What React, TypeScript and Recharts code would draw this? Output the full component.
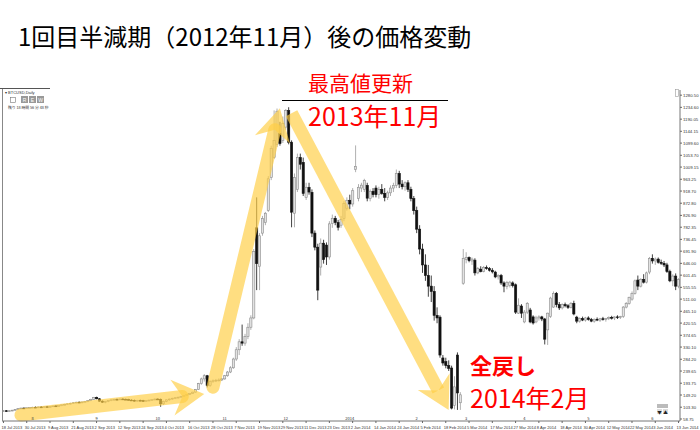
import React from "react";
import { ComposedChart, Bar, XAxis, YAxis, ReferenceLine } from "recharts";

const JP = "'Noto Sans CJK JP', 'Noto Sans', sans-serif";

// date label every 8th daily candle (weekdays only)
const tickDates = [
  "18 Jul 2013", "30 Jul 2013", "9 Aug 2013", "21 Aug 2013", "2 Sep 2013",
  "12 Sep 2013", "24 Sep 2013", "4 Oct 2013", "16 Oct 2013", "28 Oct 2013",
  "7 Nov 2013", "19 Nov 2013", "29 Nov 2013", "11 Dec 2013", "23 Dec 2013",
  "2 Jan 2014", "14 Jan 2014", "24 Jan 2014", "5 Feb 2014", "18 Feb 2014",
  "5 Mar 2014", "17 Mar 2014", "27 Mar 2014", "8 Apr 2014", "18 Apr 2014",
  "30 Apr 2014", "12 May 2014", "22 May 2014", "3 Jun 2014", "13 Jun 2014",
];

const priceTicks = [
  58.75, 103.3, 149.2, 193.75, 239.65, 284.2, 330.1, 374.65, 420.55, 465.1,
  511.0, 555.55, 601.45, 646.0, 691.9, 736.45, 782.35, 826.9, 872.8, 918.7,
  963.25, 1009.15, 1053.7, 1099.6, 1144.15, 1190.05, 1234.6, 1280.5,
];

// month separators: candle index -> label
const monthMarks = [
  [10, "8"], [32, "9"], [53, "10"], [76, "11"], [97, "12"], [119, "2014"],
  [142, "2"], [159, "3"], [179, "4"], [201, "5"], [223, "6"],
];

// [open, high, low, close]
const summer2013 = [
  [89, 92, 86, 90], [90, 92, 87, 88], [88, 91, 86, 90], [90, 93, 88, 92],
  [92, 96, 90, 95], [95, 99, 93, 98], [98, 101, 96, 100], [100, 102, 97, 99],
  [99, 102, 97, 101], [101, 104, 99, 102], [102, 105, 100, 103], [103, 106, 101, 102],
  [102, 105, 100, 104], [104, 107, 102, 103], [103, 106, 101, 105], [105, 108, 103, 104],
  [104, 107, 102, 106], [106, 109, 104, 108], [108, 111, 106, 107], [107, 110, 105, 109],
  [109, 113, 107, 112], [112, 116, 110, 114], [114, 117, 112, 116], [116, 120, 114, 118],
  [118, 122, 116, 120], [120, 124, 118, 122], [122, 125, 119, 121], [121, 124, 118, 123],
  [123, 127, 121, 125], [125, 129, 122, 128], [128, 135, 126, 133], [133, 142, 131, 140],
  [140, 143, 133, 135], [135, 137, 124, 126], [126, 129, 120, 122], [122, 127, 118, 125],
  [125, 130, 122, 128], [128, 133, 126, 131], [131, 135, 128, 133], [133, 136, 129, 132],
  [132, 136, 130, 134], [134, 137, 131, 133], [133, 136, 130, 132], [132, 135, 129, 130],
  [130, 133, 127, 129], [129, 132, 125, 127], [127, 131, 124, 129], [129, 132, 126, 128],
  [128, 131, 124, 126], [126, 130, 123, 128], [128, 132, 125, 130], [130, 134, 128, 132],
  [132, 136, 129, 134], [134, 137, 130, 133],
];

const autumn2013 = [
  [133, 136, 105, 116], [116, 128, 112, 125], [125, 133, 122, 131], [131, 136, 128, 134],
  [134, 139, 131, 137], [137, 141, 134, 139], [139, 143, 136, 141], [141, 146, 139, 144],
  [144, 149, 142, 147], [147, 153, 145, 151], [151, 157, 149, 155], [155, 162, 153, 160],
  [160, 172, 158, 170], [170, 195, 168, 192], [192, 215, 188, 210], [210, 228, 200, 222],
  [222, 225, 178, 185], [185, 205, 180, 200], [200, 208, 195, 203], [203, 210, 198, 205],
  [205, 212, 200, 206], [206, 214, 202, 210], [210, 225, 207, 222], [222, 240, 218, 236],
  [236, 258, 232, 252], [252, 290, 248, 285], [285, 330, 278, 320], [320, 360, 300, 350],
  [350, 415, 335, 345], [345, 380, 335, 370], [370, 420, 360, 405], [405, 450, 395, 440],
];

const bubble = [
  [440, 700, 435, 690], [780, 895, 545, 645], [635, 760, 545, 750], [760, 825, 750, 815],
  [800, 840, 790, 835], [846, 975, 840, 965], [970, 1090, 960, 1080], [1046, 1223, 1040, 1110],
  [1095, 1230, 1085, 1220], [1136, 1180, 1090, 1098], [1110, 1200, 1100, 1174], [1160, 1228, 1150, 1222],
  [1222, 1235, 1095, 1103], [1103, 1110, 782, 839], [835, 985, 782, 970], [925, 1060, 915, 1045],
  [1045, 1060, 1000, 1020], [1027, 1045, 900, 910], [895, 950, 885, 933], [933, 950, 905, 915],
  [914, 925, 745, 760], [760, 770, 695, 707], [707, 720, 507, 545], [632, 740, 600, 722],
  [722, 735, 645, 660], [715, 725, 640, 670], [670, 805, 660, 795], [797, 830, 780, 816],
  [816, 825, 790, 800], [800, 810, 770, 782], [790, 825, 780, 812], [816, 880, 805, 872],
  [854, 895, 845, 884], [884, 905, 850, 870], [870, 930, 860, 920], [1000, 1091, 990, 1012],
  [891, 945, 880, 933], [930, 950, 915, 941], [925, 965, 915, 958], [940, 950, 880, 892],
  [890, 925, 880, 918], [918, 930, 895, 905], [930, 940, 895, 905],
];

const collapse = [
  [905, 935, 890, 925], [925, 945, 905, 910], [910, 930, 880, 895], [895, 920, 885, 912],
  [912, 940, 900, 930], [930, 950, 915, 940], [940, 1000, 930, 985], [985, 995, 930, 945],
  [945, 960, 925, 935], [935, 955, 920, 950], [950, 960, 915, 925], [925, 935, 880, 890],
  [890, 900, 830, 845], [845, 860, 760, 775], [775, 790, 680, 700], [700, 720, 610, 640],
  [640, 680, 580, 600], [600, 640, 520, 560], [560, 600, 500, 540], [540, 560, 430, 450],
  [450, 480, 420, 440], [443, 450, 290, 300], [289, 300, 260, 270], [275, 290, 250, 260],
  [260, 280, 240, 250], [251, 260, 95, 100], [110, 220, 95, 180], [300, 310, 93, 157],
  [120, 160, 93, 150],
];

const spring2014 = [
  [571, 700, 565, 665], [660, 688, 646, 668], [668, 672, 650, 656], [655, 668, 640, 662],
  [658, 665, 600, 610], [610, 632, 605, 626], [624, 635, 612, 615], [616, 636, 612, 630],
  [630, 638, 622, 626], [626, 632, 615, 620], [620, 628, 608, 614], [613, 618, 590, 595],
  [595, 605, 585, 600], [600, 606, 565, 572], [572, 578, 537, 560], [558, 580, 548, 574],
  [562, 580, 555, 575], [572, 578, 555, 562], [565, 570, 455, 462], [458, 514, 455, 488],
  [485, 492, 440, 458], [425, 470, 420, 462], [462, 500, 455, 495], [470, 478, 420, 425],
  [444, 450, 415, 421], [425, 448, 420, 440], [440, 450, 430, 444], [444, 448, 428, 436],
  [436, 440, 340, 360], [395, 460, 338, 458], [445, 520, 440, 515], [481, 540, 478, 533],
  [533, 538, 480, 490], [490, 500, 470, 478], [478, 495, 472, 490], [490, 498, 480, 486],
  [486, 492, 474, 480], [480, 500, 476, 495], [495, 505, 450, 455], [443, 448, 420, 428],
  [428, 442, 422, 438], [438, 445, 428, 432], [432, 444, 426, 440], [440, 446, 430, 434],
  [434, 440, 424, 428], [428, 438, 422, 435], [435, 442, 428, 432], [432, 440, 425, 437],
  [437, 444, 430, 434], [434, 440, 426, 438], [438, 446, 432, 442], [442, 448, 434, 440],
  [440, 446, 432, 444], [444, 450, 436, 442], [442, 448, 436, 445], [445, 485, 440, 481],
  [481, 500, 476, 495], [495, 520, 490, 518], [511, 540, 505, 533], [533, 585, 528, 580],
  [583, 600, 545, 560], [560, 590, 555, 585], [585, 605, 570, 575], [575, 615, 570, 610],
  [613, 670, 605, 665], [665, 680, 645, 655], [655, 668, 640, 662], [662, 668, 645, 650],
  [650, 660, 640, 646], [646, 655, 632, 640], [640, 648, 610, 615], [615, 622, 575, 580],
  [580, 605, 560, 598], [598, 608, 545, 560], [560, 590, 552, 585],
];

const candles = [...summer2013, ...autumn2013, ...bubble, ...collapse, ...spring2014].map(
  ([o, h, l, c], i) => ({ i, o, h, l, c })
);

// arrows: [from, to] as {candle index, price}
const arrows = [
  { from: { x: 6, y: 74 }, to: { x: 69, y: 153 }, cap: "round" },
  { from: { x: 72, y: 179 }, to: { x: 95, y: 1231 }, cap: "round" },
  { from: { x: 99, y: 1212 }, to: { x: 153, y: 93 }, cap: "butt" },
];

function Candle(props: any) {
  const { x, y, width, height, payload } = props;
  if (!payload) return null;
  const { o, h, l, c } = payload;
  const span = h - l || 1;
  const toY = (v: number) => y + ((h - v) / span) * height;
  const up = c >= o;
  const cx = x + width / 2;
  const top = toY(Math.max(o, c));
  const bot = toY(Math.min(o, c));
  const bw = 2.2;
  return (
    <g>
      <line x1={cx} x2={cx} y1={y} y2={y + height} stroke={up ? "#9a9a9a" : "#111"} strokeWidth={0.8} />
      <rect
        x={cx - bw / 2}
        y={top}
        width={bw}
        height={Math.max(0.8, bot - top)}
        fill={up ? "#e2e2e2" : "#111"}
        stroke={up ? "#8c8c8c" : "#111"}
        strokeWidth={0.6}
      />
    </g>
  );
}

function Arrow(props: any) {
  const { x1, y1, x2, y2, cap } = props;
  const dx = x2 - x1;
  const dy = y2 - y1;
  const len = Math.hypot(dx, dy) || 1;
  const ux = dx / len;
  const uy = dy / len;
  const px = -uy;
  const py = ux;
  const L = 32;
  const W = 18;
  const N = 22;
  const bx = x2 - ux * L;
  const by = y2 - uy * L;
  const nx = x2 - ux * N;
  const ny = y2 - uy * N;
  const head = `${x2},${y2} ${bx + px * W},${by + py * W} ${nx},${ny} ${bx - px * W},${by - py * W}`;
  return (
    <g>
      <line x1={x1} y1={y1} x2={nx} y2={ny} stroke="#FFCF45" strokeOpacity={0.68} strokeWidth={13} strokeLinecap={cap} />
      <polygon points={head} fill="#FFCF45" fillOpacity={0.68} />
    </g>
  );
}

function DateTick(props: any) {
  const { x, y, payload } = props;
  return (
    <text x={x - 2} y={y + 4} fontSize={4} fill="#333" textAnchor="start" fontFamily="Arial, sans-serif">
      {tickDates[payload.value / 8]}
    </text>
  );
}

export default function App() {
  return (
    <div
      style={{
        position: "absolute",
        left: 0,
        top: 0,
        width: 700,
        height: 430,
        background: "#fff",
        overflow: "hidden",
        fontFamily: JP,
      }}
    >
      <ComposedChart
        width={700}
        height={430}
        data={candles}
        margin={{ top: 90, right: 0, bottom: 0, left: 2 }}
        barCategoryGap={0}
      >
        <XAxis
          dataKey="i"
          interval={7}
          height={9}
          tickSize={2}
          tickLine={{ stroke: "#666" }}
          axisLine={{ stroke: "#777" }}
          tick={<DateTick />}
        />
        <YAxis
          orientation="right"
          width={20}
          domain={[51.2, 1300]}
          allowDataOverflow
          ticks={priceTicks}
          interval={0}
          tickSize={2}
          tickMargin={1}
          tickFormatter={(v: number) => v.toFixed(2)}
          tick={{ fontSize: 4.3, fill: "#333", fontFamily: "Arial, sans-serif" }}
          tickLine={{ stroke: "#666" }}
          axisLine={{ stroke: "#777" }}
        />
        <Bar dataKey={(d: any) => [d.l, d.h]} shape={<Candle />} isAnimationActive={false} />
        {monthMarks.map(([i, label]) => (
          <ReferenceLine
            key={String(label)}
            x={i as number}
            stroke="none"
            ifOverflow="visible"
            label={{ value: label, position: "insideBottom", offset: 1, fontSize: 4, fill: "#333" }}
          />
        ))}
        {arrows.map((a, k) => (
          <ReferenceLine
            key={k}
            segment={[a.from, a.to]}
            ifOverflow="visible"
            shape={(p: any) => <Arrow {...p} cap={a.cap} />}
          />
        ))}
      </ComposedChart>

      {/* MT4 window furniture */}
      <div style={{ position: "absolute", left: 0, top: 88, width: 50, height: 1, background: "#555" }} />
      <div style={{ position: "absolute", left: 2, top: 89, width: 1, height: 332, background: "#888" }} />
      <svg style={{ position: "absolute", left: 0, top: 0 }} width={700} height={430}>
        <text x={5} y={94} fontSize={4} fill="#333" fontFamily="Arial, sans-serif">▾ BTCUSD,Daily</text>
        <rect x={10.5} y={97.5} width={5} height={5} fill="#fff" stroke="#777" strokeWidth={0.6} />
        {["R", "E", "W"].map((t, k) => (
          <g key={t}>
            <rect x={21 + k * 8} y={96} width={7} height={7} fill="#999" />
            <text x={24.5 + k * 8} y={101.5} fontSize={5} fill="#fff" textAnchor="middle" fontFamily="Arial, sans-serif">
              {t}
            </text>
          </g>
        ))}
        <text x={8} y={109} fontSize={3.8} fill="#333" fontFamily={JP}>残り 18 時間 56 分 48 秒</text>
        <rect x={675.5} y={89.5} width={3} height={7} fill="#fff" stroke="#999" strokeWidth={0.6} />
        <rect x={657} y={404} width={11} height={4} fill="#bbb" />
        <rect x={657} y={409} width={5} height={5} fill="#ddd" />
        <rect x={663} y={409} width={5} height={5} fill="#ddd" />
        <text x={659.5} y={413.5} fontSize={4.5} fill="#222" textAnchor="middle">▼</text>
        <text x={665.5} y={413.5} fontSize={4.5} fill="#222" textAnchor="middle">▲</text>
      </svg>

      <div style={{ position: "absolute", left: 18, top: 24, fontSize: 24, lineHeight: 1, color: "#000", whiteSpace: "nowrap" }}>
        1回目半減期（2012年11月）後の価格変動
      </div>
      <div style={{ position: "absolute", left: 308, top: 72, fontSize: 21, lineHeight: 1, color: "#f00", whiteSpace: "nowrap" }}>
        最高値更新
      </div>
      <div style={{ position: "absolute", left: 282, top: 100, width: 166, height: 1, background: "#000" }} />
      <div style={{ position: "absolute", left: 308, top: 103, fontSize: 25, lineHeight: 1, color: "#f00", whiteSpace: "nowrap" }}>
        2013年11月
      </div>
      <div style={{ position: "absolute", left: 470, top: 352.5, fontSize: 22, lineHeight: 1, fontWeight: 700, color: "#f00", whiteSpace: "nowrap" }}>
        全戻し
      </div>
      <div style={{ position: "absolute", left: 470, top: 385, fontSize: 25, lineHeight: 1, color: "#f00", whiteSpace: "nowrap" }}>
        2014年2月
      </div>
    </div>
  );
}
